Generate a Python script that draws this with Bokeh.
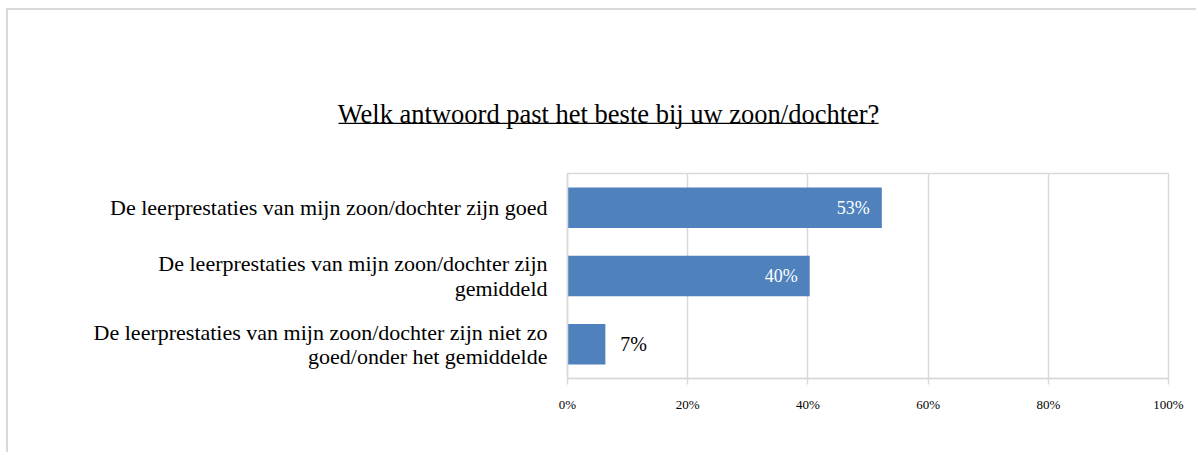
from bokeh.plotting import figure
from bokeh.layouts import column
from bokeh.models import (ColumnDataSource, LabelSet, NumeralTickFormatter,
                          FixedTicker, FactorRange, Range1d)
from bokeh.embed import file_html
from bokeh.resources import INLINE
from bokeh.core.properties import value

title_text = "Welk antwoord past het beste bij uw zoon/dochter?"
categories = [
    "De leerprestaties van mijn zoon/dochter zijn goed",
    "De leerprestaties van mijn zoon/dochter zijn\ngemiddeld",
    "De leerprestaties van mijn zoon/dochter zijn niet zo\ngoed/onder het gemiddelde",
]
values = [0.523, 0.403, 0.063]
value_labels = ["53%", "40%", "7%"]
x_ticks = [0, 0.2, 0.4, 0.6, 0.8, 1.0]

FONT = "Liberation Serif"
GRID = "#d9d9d9"
BAR = "#4f81bd"
W = 1188

# ---- chart ----
inside = [v > 0.15 for v in values]
src = ColumnDataSource(dict(
    cat=categories, val=values, lab=value_labels,
    color=["#ffffff" if i else "#000000" for i in inside],
    align=["right" if i else "left" for i in inside],
    xoff=[-12 if i else 15 for i in inside],
    size=["18px" if i else "20px" for i in inside],
))

p = figure(width=W, height=302,
           y_range=FactorRange(*reversed(categories)), x_range=Range1d(0, 1),
           output_backend="svg", toolbar_location=None,
           min_border_left=559, min_border_right=W - 559 - 601,
           min_border_top=23, min_border_bottom=74)

p.hbar(y="cat", right="val", left=0, height=0.593, source=src,
       fill_color=BAR, line_color=None)

p.add_layout(LabelSet(x="val", y="cat", text="lab", source=src,
                      x_offset="xoff", text_align="align", text_baseline="middle",
                      text_color="color", text_font=value(FONT),
                      text_font_size="size"))

p.outline_line_color = GRID
p.outline_line_width = 1.5
p.ygrid.visible = False
p.xgrid.ticker = FixedTicker(ticks=x_ticks)
p.xgrid.grid_line_color = GRID
p.xgrid.grid_line_width = 1.5

xa = p.xaxis[0]
xa.ticker = FixedTicker(ticks=x_ticks)
xa.formatter = NumeralTickFormatter(format="0%")
xa.axis_line_color = GRID
xa.axis_line_width = 1.5
xa.major_tick_line_color = GRID
xa.major_tick_line_width = 1.5
xa.major_tick_out = 6
xa.major_tick_in = 0
xa.minor_tick_line_color = None
xa.major_label_text_font = FONT
xa.major_label_text_font_size = "13px"
xa.major_label_text_color = "#000000"
xa.major_label_standoff = 12

ya = p.yaxis[0]
ya.axis_line_color = GRID
ya.axis_line_width = 1.5
ya.major_tick_line_color = None
ya.major_tick_out = 0
ya.major_tick_in = 0
ya.minor_tick_line_color = None
ya.major_label_text_font = FONT
ya.major_label_text_font_size = "22px"
ya.major_label_text_color = "#000000"
ya.major_label_text_line_height = 0.97
ya.major_label_standoff = 20

# ---- header (title with underline) ----
HH = 140
header = figure(width=W, height=HH, x_range=Range1d(0, W), y_range=Range1d(HH, 0),
                output_backend="svg", toolbar_location=None,
                x_axis_location=None, y_axis_location=None,
                min_border=0, min_border_left=0, min_border_right=0,
                min_border_top=0, min_border_bottom=0)
header.outline_line_color = None
header.grid.visible = False

try:
    header.frame_align = False
    p.frame_align = False
    free_header = True
except Exception:
    free_header = False

if free_header:
    header.text(x=[600], y=[103], text=[title_text], text_align=value("center"),
                text_baseline=value("middle"), text_font=value(FONT),
                text_font_size=value("26.5px"), text_color="#000000")
    header.segment(x0=[330], y0=[112.8], x1=[870], y1=[112.8],
                   line_color="#000000", line_width=1.3)
else:
    header.title.text = title_text
    header.title.text_font = FONT
    header.title.text_font_size = "26.5px"
    header.title.text_font_style = "normal"
    header.title.text_color = "#000000"

layout = column(header, p, spacing=0,
                styles={"border-left": "2px solid #d9d9d9",
                        "border-top": "2px solid #d9d9d9",
                        "margin-left": "6px", "margin-top": "8px"})

open("out.html", "w").write(file_html(layout, INLINE))
